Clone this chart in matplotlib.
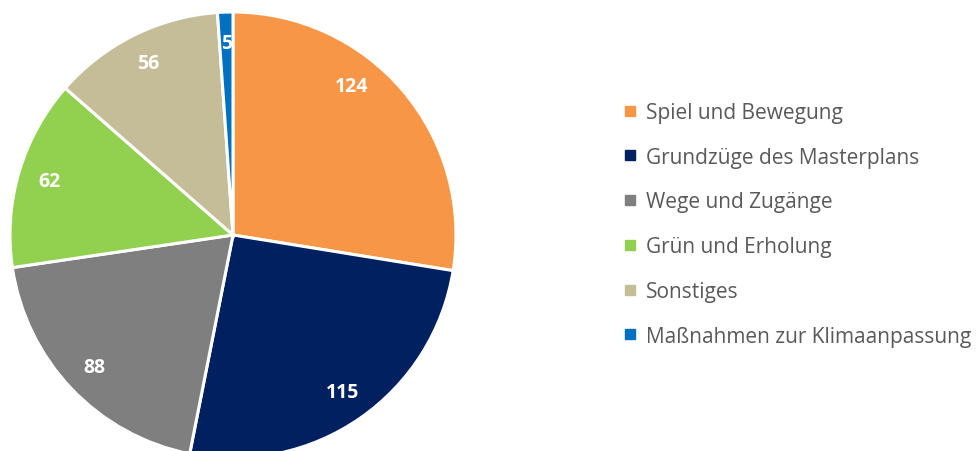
import matplotlib
matplotlib.use("Agg")
import matplotlib.pyplot as plt
from matplotlib.lines import Line2D
import numpy as np

categories = ["Spiel und Bewegung", "Grundzüge des Masterplans", "Wege und Zugänge",
              "Grün und Erholung", "Sonstiges", "Maßnahmen zur Klimaanpassung"]
values = [124, 115, 88, 62, 56, 5]
colors = ["#F79646", "#002060", "#7F7F7F", "#92D050", "#C4BD97", "#0070C0"]

plt.rcParams['font.family'] = ['Open Sans', 'DejaVu Sans']

W, H = 977, 452
fig = plt.figure(figsize=(W / 100, H / 100), dpi=100)
cx, cy, r = 233, 236, 223
ax = fig.add_axes([(cx - r) / W, (H - cy - r) / H, 2 * r / W, 2 * r / H])

wedges, texts, autotexts = ax.pie(
    values, colors=colors, startangle=90, counterclock=False, radius=1,
    wedgeprops=dict(edgecolor='white', linewidth=2.2),
    autopct=lambda p: "", pctdistance=0.86)
ax.set_xlim(-1, 1)
ax.set_ylim(-1, 1)
ax.set_aspect('equal')
ax.axis('off')

for w, v, t in zip(wedges, values, autotexts):
    t.set_text(str(v))
    t.set_color('white')
    t.set_fontweight('bold')
    t.set_fontsize(14)
# Excel places the first label nearer the top
ang = np.deg2rad(90 - 38.6)
autotexts[0].set_position((0.855 * np.cos(ang), 0.855 * np.sin(ang)))

handles = [Line2D([0], [0], marker='s', linestyle='none', markersize=6.5,
                  markerfacecolor=c, markeredgecolor=c) for c in colors]
leg = fig.legend(handles, categories, loc='upper left',
                 bbox_to_anchor=(624 / W, 1 - 103 / H), frameon=False,
                 fontsize=15, labelspacing=1.14, handlelength=0.6,
                 handletextpad=0.45, borderaxespad=0, borderpad=0)
for t in leg.get_texts():
    t.set_color('#595959')

fig.savefig("out.png", dpi=100)
